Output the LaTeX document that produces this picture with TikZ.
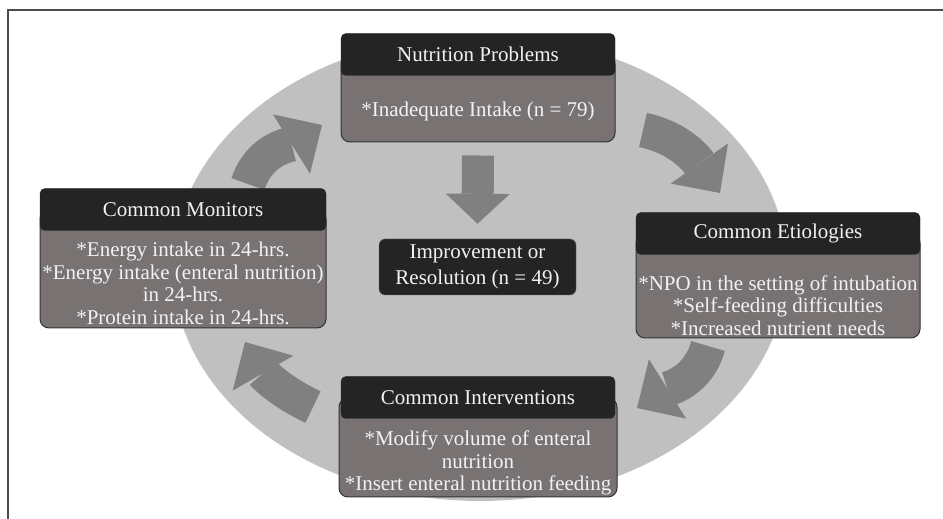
\documentclass[tikz,border=0pt]{standalone}
\usepackage{fontspec}
\setmainfont{Liberation Serif}
\usetikzlibrary{arrows.meta, calc, positioning}
\definecolor{hdrdark}{HTML}{242424}
\definecolor{panelgray}{HTML}{787272}
\definecolor{ringgray}{HTML}{C0C0C0}
\definecolor{arrowgray}{HTML}{808080}

\begin{document}
\begin{tikzpicture}[
    x=1pt, y=1pt,
    hdr/.style={rectangle, fill=hdrdark, draw=hdrdark, rounded corners=5pt, text=white!95!black, font=\fontsize{21}{22.5}\selectfont, minimum height=42pt, inner sep=0pt},
    panel/.style={rectangle, fill=panelgray, draw=black!80, line width=1pt, rounded corners=9pt, inner sep=0pt},
    bodytxt/.style={text=white!95!black, font=\fontsize{21}{22.5}\selectfont, align=center, inner sep=0pt},
    centerbox/.style={rectangle, fill=hdrdark, draw=black!60, rounded corners=6pt, text=white!95!black, font=\fontsize{21}{26}\selectfont, align=center, minimum width=197pt, minimum height=56pt, inner sep=0pt},
    cyc/.style={draw=arrowgray, line width=35pt, -{Triangle[width=70pt, length=36pt, line width=0pt]}},
    downarr/.style={draw=arrowgray, line width=32pt, -{Triangle[width=64pt, length=30pt, line width=0pt]}}
]
    \useasboundingbox (0,0) rectangle (943,519);

    % Frame
    \draw[black!70, line width=1.5pt] (8,0) -- (8,509) -- (943,509);

    % Background ring
    \fill[ringgray] (480,251) ellipse [x radius=307, y radius=233];

    % Cycle arrows
    \coordinate (a1s) at (248,335);
    \coordinate (a1e) at (322,394);
    \coordinate (a2s) at (643,389);
    \coordinate (a2e) at (720,326);
    \coordinate (a3s) at (708,173);
    \coordinate (a3e) at (637,111);
    \coordinate (a4s) at (313,112);
    \coordinate (a4e) at (245,177);
    \draw[cyc] (a1s) to[out=72, in=212] (a1e);
    \draw[cyc] (a2s) to[out=-12, in=125] (a2e);
    \draw[cyc] (a3s) to[out=255, in=32] (a3e);
    \draw[cyc] (a4s) to[out=155, in=300] (a4e);

    % Nutrition problems
    \node[panel, minimum width=274pt, minimum height=87pt] (probbody) at (478,420.5) {};
    \node[hdr, minimum width=274pt] (probh) at (probbody.north) {Nutrition Problems};
    \node[bodytxt, yshift=-2pt] (probt) at ($(probh.south)!0.5!(probbody.south)$) {{*}Inadequate Intake (n = 79)};

    % Monitors
    \node[panel, minimum width=286pt, minimum height=118pt] (monbody) at (183,250) {};
    \node[hdr, minimum width=286pt] (monh) at (monbody.north) {Common Monitors};
    \node[bodytxt, yshift=-4pt] (mont) at ($(monh.south)!0.5!(monbody.south)$) {{*}Energy intake in 24-hrs.\\{*}Energy intake (enteral nutrition)\\in 24-hrs.\\{*}Protein intake in 24-hrs.};

    % Etiologies
    \node[panel, minimum width=284pt, minimum height=104pt] (etibody) at (778,233) {};
    \node[hdr, minimum width=284pt] (etih) at (etibody.north) {Common Etiologies};
    \node[bodytxt, yshift=-9pt] (etit) at ($(etih.south)!0.5!(etibody.south)$) {{*}NPO in the setting of intubation\\{*}Self-feeding difficulties\\{*}Increased nutrient needs};

    % Interventions
    \node[panel, minimum width=278pt, minimum height=99pt] (intbody) at (478,71.5) {};
    \node[hdr, minimum width=274pt] (inth) at (intbody.north) {Common Interventions};
    \node[bodytxt, yshift=-5pt] (intt) at ($(inth.south)!0.5!(intbody.south)$) {{*}Modify volume of enteral\\nutrition\\{*}Insert enteral nutrition feeding};

    % Outcome
    \node[centerbox] (imp) at (477.5,252) {Improvement or\\Resolution (n = 49)};
    \draw[downarr] ([yshift=-13pt]probbody.south) -- ([yshift=15pt]imp.north);

\end{tikzpicture}
\end{document}
